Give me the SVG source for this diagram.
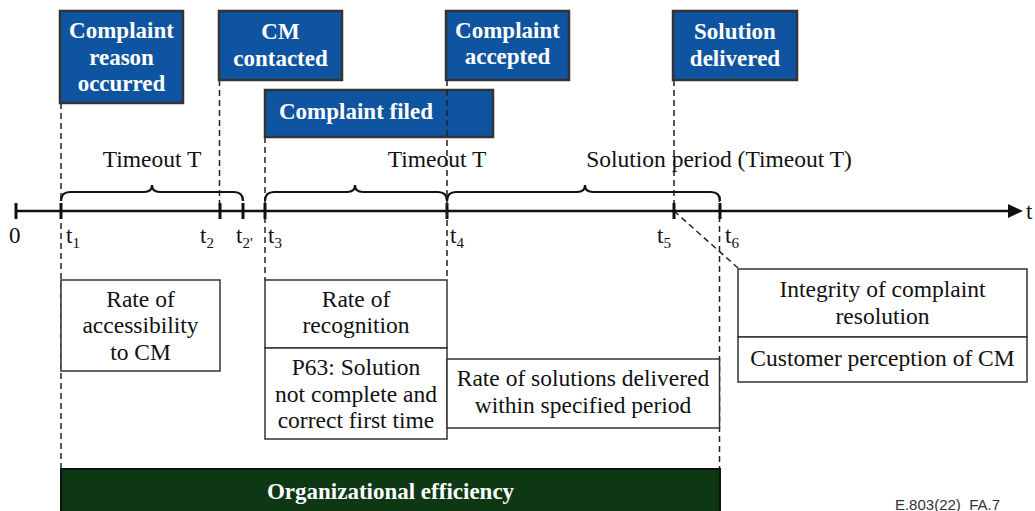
<svg xmlns="http://www.w3.org/2000/svg" width="1035" height="511" viewBox="0 0 1035 511">
<style>
.ev{fill:#0f54a0;stroke:#333;stroke-width:2.5}
.evt{font-family:"Liberation Serif","Times New Roman",serif;font-weight:bold;font-size:23px;fill:#fff;text-anchor:middle}
.box{fill:#fff;stroke:#333;stroke-width:1.5}
.t{font-family:"Liberation Serif","Times New Roman",serif;font-size:23.5px;fill:#111;text-anchor:middle}
.lbl{font-family:"Liberation Serif","Times New Roman",serif;font-size:23px;fill:#111}
.dash{fill:none;stroke:#222;stroke-width:1.5;stroke-dasharray:6 4}
.brace{fill:none;stroke:#111;stroke-width:2.2}
.tick{stroke:#111;stroke-width:3}
</style>
<rect width="1035" height="511" fill="#fff"/>

<g id="connectors">
  <line class="dash" x1="61" y1="103" x2="61" y2="468"/>
  <line class="dash" x1="219.5" y1="80" x2="219.5" y2="211"/>
  <line class="dash" x1="265" y1="137" x2="265" y2="280"/>
  <line class="dash" x1="674" y1="80" x2="674" y2="211"/>
  <line class="dash" x1="674" y1="211" x2="738" y2="268"/>
  <line class="dash" x1="719.5" y1="196" x2="719.5" y2="468"/>
</g>

<g id="timeline">
  <line x1="16" y1="211" x2="1010" y2="211" stroke="#111" stroke-width="2.5"/>
  <polygon points="1008,204 1023,211 1008,218" fill="#111"/>
  <line class="tick" x1="16" y1="203" x2="16" y2="219"/>
  <line class="tick" x1="61" y1="203" x2="61" y2="219"/>
  <line class="tick" x1="220" y1="203" x2="220" y2="219"/>
  <line class="tick" x1="243" y1="203" x2="243" y2="219"/>
  <line class="tick" x1="265" y1="203" x2="265" y2="219"/>
  <line class="tick" x1="447" y1="203" x2="447" y2="219"/>
  <line class="tick" x1="674" y1="203" x2="674" y2="219"/>
  <line class="tick" x1="720" y1="203" x2="720" y2="219"/>
  <text class="lbl" x="1026" y="219">t</text>
  <text class="lbl" x="9" y="243">0</text>
  <text class="lbl" x="66" y="243">t<tspan font-size="15" dy="5">1</tspan></text>
  <text class="lbl" x="200" y="243">t<tspan font-size="15" dy="5">2</tspan></text>
  <text class="lbl" x="236" y="243">t<tspan font-size="15" dy="5">2'</tspan></text>
  <text class="lbl" x="268" y="243">t<tspan font-size="15" dy="5">3</tspan></text>
  <text class="lbl" x="450" y="243">t<tspan font-size="15" dy="5">4</tspan></text>
  <text class="lbl" x="657" y="243">t<tspan font-size="15" dy="5">5</tspan></text>
  <text class="lbl" x="725" y="243">t<tspan font-size="15" dy="5">6</tspan></text>
</g>

<g id="braces">
  <path class="brace" d="M61,201 Q61,192 70,192 L144,192 Q152,192 152,185 Q152,192 160,192 L234,192 Q243,192 243,201"/>
  <path class="brace" d="M265,201 Q265,192 274,192 L347,192 Q355,192 355,185 Q355,192 363,192 L438,192 Q447,192 447,201"/>
  <path class="brace" d="M447,201 Q447,192 456,192 L577,192 Q585,192 585,185 Q585,192 593,192 L711,192 Q720,192 720,201"/>
  <text class="t" x="152" y="167">Timeout T</text>
  <text class="t" x="437" y="167">Timeout T</text>
  <text class="t" x="719" y="167">Solution period (Timeout T)</text>
</g>

<g id="ev-reason">
  <rect class="ev" x="60" y="11" width="123" height="92"/>
  <text class="evt" x="121.5" y="38">Complaint</text>
  <text class="evt" x="121.5" y="65">reason</text>
  <text class="evt" x="121.5" y="91">occurred</text>
</g>
<g id="ev-contacted">
  <rect class="ev" x="219" y="11" width="123" height="69"/>
  <text class="evt" x="280.5" y="39">CM</text>
  <text class="evt" x="280.5" y="66">contacted</text>
</g>
<g id="ev-filed">
  <rect class="ev" x="265" y="90" width="228" height="47"/>
  <text class="evt" x="356" y="119">Complaint filed</text>
</g>
<g id="ev-accepted">
  <rect class="ev" x="446" y="11" width="123" height="69"/>
  <text class="evt" x="507.5" y="38">Complaint</text>
  <text class="evt" x="507.5" y="64">accepted</text>
</g>
<g id="ev-delivered">
  <rect class="ev" x="673" y="11" width="124" height="69"/>
  <text class="evt" x="735" y="39">Solution</text>
  <text class="evt" x="735" y="66">delivered</text>
</g>
<line class="dash" x1="447" y1="80" x2="447" y2="280"/>

<g id="m-access">
  <rect class="box" x="61" y="280" width="159" height="91"/>
  <text class="t" x="140.5" y="307">Rate of</text>
  <text class="t" x="140.5" y="333">accessibility</text>
  <text class="t" x="140.5" y="360">to CM</text>
</g>
<g id="m-recog">
  <rect class="box" x="265" y="280" width="182" height="68"/>
  <text class="t" x="356" y="307">Rate of</text>
  <text class="t" x="356" y="333">recognition</text>
</g>
<g id="m-p63">
  <rect class="box" x="265" y="348" width="182" height="91"/>
  <text class="t" x="356" y="375">P63: Solution</text>
  <text class="t" x="356" y="402">not complete and</text>
  <text class="t" x="356" y="428">correct first time</text>
</g>
<g id="m-solutions">
  <rect class="box" x="447" y="359" width="272.5" height="69"/>
  <text class="t" x="583" y="386">Rate of solutions delivered</text>
  <text class="t" x="583" y="413">within specified period</text>
</g>
<g id="m-integrity">
  <rect class="box" x="738" y="269" width="289" height="68"/>
  <text class="t" x="882.5" y="297">Integrity of complaint</text>
  <text class="t" x="882.5" y="324">resolution</text>
</g>
<g id="m-perception">
  <rect class="box" x="738" y="337" width="289" height="45"/>
  <text class="t" x="882.5" y="366">Customer perception of CM</text>
</g>
<g id="org">
  <rect x="61" y="469" width="659" height="45" fill="#0d3813" stroke="#111" stroke-width="2"/>
  <text class="evt" x="390.5" y="499">Organizational efficiency</text>
</g>
<text x="1000" y="510" font-family="'Liberation Sans',sans-serif" font-size="15" fill="#333" text-anchor="end" xml:space="preserve">E.803(22)  FA.7</text>
</svg>
